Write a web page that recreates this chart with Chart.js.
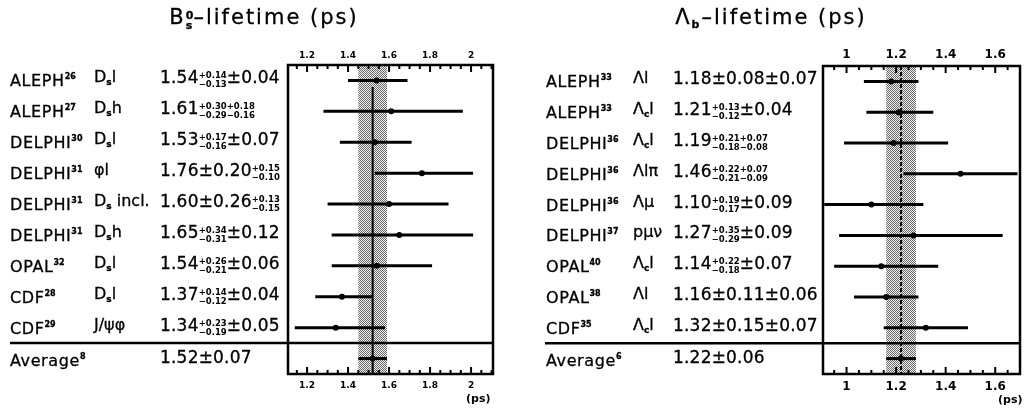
<!DOCTYPE html>
<html>
<head>
<meta charset="utf-8">
<script src="https://cdn.jsdelivr.net/npm/chart.js@4.4.1/dist/chart.umd.min.js"></script>
<style>
  html, body { margin: 0; padding: 0; background: #fff; }
  #wrap { position: relative; width: 1024px; height: 412px; overflow: hidden;
          font-family: "DejaVu Sans", sans-serif; color: #000; }
  canvas { position: absolute; top: 0; }
  .title { position: absolute; top: 5px; font-size: 21px; letter-spacing: 2px;
           white-space: nowrap; transform: translateX(-50%); -webkit-text-stroke: 0.3px #000; }
  .title .st { display: inline-block; vertical-align: -5px; font-size: 11px; line-height: 10px;
               letter-spacing: 0; font-weight: bold; }
  .title .st span { display: block; }
  .cell { position: absolute; white-space: nowrap; font-size: 16px; line-height: 20px; height: 20px;
          -webkit-text-stroke: 0.3px #000; }
  .name { letter-spacing: 0.6px; }
  .ref { font-size: 8px; font-weight: bold; vertical-align: 7px; letter-spacing: 0; }
  .cell sub { font-size: 9px; font-weight: bold; vertical-align: -3px; }
  .val { font-size: 17px; letter-spacing: 0.2px; }
  .ud { display: inline-block; vertical-align: -4px; font-size: 8.5px; line-height: 9px;
        font-weight: bold; letter-spacing: 0; -webkit-text-stroke: 0; }
  .ud span { display: block; }
  .unit { position: absolute; font-size: 11px; font-weight: bold; }
</style>
</head>
<body>
<div id="wrap">
  <canvas id="bsChart" width="512" height="412" style="left:0"></canvas>
  <canvas id="lbChart" width="512" height="412" style="left:512px"></canvas>
  <div class="title" style="left:264px">B<span class="st"><span>0</span><span>s</span></span>–lifetime (ps)</div>
  <div class="title" style="left:771px">Λ<sub style="font-size:11px;font-weight:bold;vertical-align:-4px">b</sub>–lifetime (ps)</div>
  <div class="unit" style="left:466px;top:392px">(ps)</div>
  <div class="unit" style="left:998px;top:393px">(ps)</div>
</div>
<script>
// ---- B_s lifetime measurements ----
const bsNames    = ['ALEPH', 'ALEPH', 'DELPHI', 'DELPHI', 'DELPHI', 'DELPHI', 'OPAL', 'CDF', 'CDF'];
const bsRefs     = ['26', '27', '30', '31', '31', '31', '32', '28', '29'];
const bsChannels = ['D<sub>s</sub>l', 'D<sub>s</sub>h', 'D<sub>s</sub>l', 'φl', 'D<sub>s</sub> incl.',
                    'D<sub>s</sub>h', 'D<sub>s</sub>l', 'D<sub>s</sub>l', 'J/ψφ'];
const bsCentral  = ['1.54', '1.61', '1.53', '1.76±0.20', '1.60±0.26', '1.65', '1.54', '1.37', '1.34'];
const bsUp       = ['+0.14', '+0.30+0.18', '+0.17', '+0.15', '+0.13', '+0.34', '+0.26', '+0.14', '+0.23'];
const bsDown     = ['−0.13', '−0.29−0.16', '−0.16', '−0.10', '−0.15', '−0.31', '−0.21', '−0.12', '−0.19'];
const bsTail     = ['±0.04', '', '±0.07', '', '', '±0.12', '±0.06', '±0.04', '±0.05'];
const bsValues   = [1.54, 1.61, 1.53, 1.76, 1.60, 1.65, 1.54, 1.37, 1.34];
const bsErrHi    = [0.15, 0.35, 0.18, 0.25, 0.29, 0.36, 0.27, 0.15, 0.24];
const bsErrLo    = [0.14, 0.33, 0.17, 0.23, 0.30, 0.33, 0.22, 0.13, 0.20];
const bsAverage  = [1.52, 0.07];   // value, error
const bsAvgRef   = '8';
const bsTicks    = [1.2, 1.4, 1.6, 1.8, 2];

// ---- Lambda_b lifetime measurements ----
const lbNames    = ['ALEPH', 'ALEPH', 'DELPHI', 'DELPHI', 'DELPHI', 'DELPHI', 'OPAL', 'OPAL', 'CDF'];
const lbRefs     = ['33', '33', '36', '36', '36', '37', '40', '38', '35'];
const lbChannels = ['Λl', 'Λ<sub>c</sub>l', 'Λ<sub>c</sub>l', 'Λlπ', 'Λμ', 'pμν',
                    'Λ<sub>c</sub>l', 'Λl', 'Λ<sub>c</sub>l'];
const lbCentral  = ['1.18±0.08±0.07', '1.21', '1.19', '1.46', '1.10', '1.27', '1.14',
                    '1.16±0.11±0.06', '1.32±0.15±0.07'];
const lbUp       = ['', '+0.13', '+0.21+0.07', '+0.22+0.07', '+0.19', '+0.35', '+0.22', '', ''];
const lbDown     = ['', '−0.12', '−0.18−0.08', '−0.21−0.09', '−0.17', '−0.29', '−0.18', '', ''];
const lbTail     = ['', '±0.04', '', '', '±0.09', '±0.09', '±0.07', '', ''];
const lbValues   = [1.18, 1.21, 1.19, 1.46, 1.10, 1.27, 1.14, 1.16, 1.32];
const lbErrHi    = [0.11, 0.14, 0.22, 0.23, 0.21, 0.36, 0.23, 0.13, 0.17];
const lbErrLo    = [0.11, 0.13, 0.20, 0.23, 0.19, 0.30, 0.19, 0.13, 0.17];
const lbAverage  = [1.22, 0.06];
const lbAvgRef   = '6';
const lbTicks    = [1, 1.2, 1.4, 1.6];

// stipple used for the average band
function bandPattern(ctx) {
  const c = document.createElement('canvas');
  c.width = 2; c.height = 2;
  const p = c.getContext('2d');
  p.fillStyle = '#f0f0f0'; p.fillRect(0, 0, 2, 2);
  p.fillStyle = '#6a6a6a';
  p.fillRect(0, 0, 1, 1); p.fillRect(1, 1, 1, 1);
  return ctx.createPattern(c, 'repeat');
}

const decor = {
  id: 'decor',
  beforeDatasetsDraw(chart, args, o) {
    const { ctx, chartArea: a, scales: { x } } = chart;
    const x0 = x.getPixelForValue(o.avg[0] - o.avg[1]);
    const x1 = x.getPixelForValue(o.avg[0] + o.avg[1]);
    ctx.save();
    ctx.fillStyle = bandPattern(ctx);
    ctx.fillRect(x0, a.top, x1 - x0, a.bottom - a.top);
    const xm = x.getPixelForValue(o.avg[0]);
    ctx.strokeStyle = '#000';
    ctx.lineWidth = 2;
    if (o.dash) ctx.setLineDash(o.dash);
    ctx.beginPath(); ctx.moveTo(xm, a.top + o.lineStart); ctx.lineTo(xm, a.bottom); ctx.stroke();
    ctx.restore();
  },
  afterDraw(chart, args, o) {
    const { ctx, chartArea: a, scales: { x, y } } = chart;
    ctx.save();
    ctx.strokeStyle = '#000';
    // inward ticks, minor every o.minor, major on labelled values
    ctx.lineWidth = 2;
    const first = Math.ceil(x.min / o.minor - 1e-6);
    for (let k = first; k * o.minor <= x.max + 1e-6; k++) {
      const v = k * o.minor;
      const px = x.getPixelForValue(v);
      const major = o.ticks.some(t => Math.abs(t - v) < 1e-6);
      const len = major ? 7 : 4;
      ctx.beginPath();
      ctx.moveTo(px, a.top); ctx.lineTo(px, a.top + len);
      ctx.moveTo(px, a.bottom); ctx.lineTo(px, a.bottom - len);
      ctx.stroke();
    }
    // frame
    ctx.lineWidth = 2.5;
    ctx.strokeRect(a.left, a.top, a.right - a.left, a.bottom - a.top);
    // separator above the average row
    const ys = y.getPixelForValue(o.sepAt);
    ctx.beginPath(); ctx.moveTo(o.sepFrom, ys); ctx.lineTo(a.right, ys); ctx.stroke();
    ctx.restore();
  }
};

function makePanel(id, p) {
  const datasets = [];
  p.values.forEach((v, i) => {
    datasets.push({
      data: [{ x: v - p.lo[i], y: i }, { x: v + p.hi[i], y: i }],
      borderColor: '#000', borderWidth: 3, pointRadius: 0, fill: false
    });
  });
  datasets.push({
    data: [{ x: p.avg[0] - p.avg[1], y: 9 }, { x: p.avg[0] + p.avg[1], y: 9 }],
    borderColor: '#000', borderWidth: 3, pointRadius: 0, fill: false
  });
  datasets.push({
    data: p.values.map((v, i) => ({ x: v, y: i })).concat([{ x: p.avg[0], y: 9 }]),
    showLine: false, pointRadius: 3, pointBackgroundColor: '#000', pointBorderWidth: 0
  });

  const axis = (pos, h, pad) => ({
    type: 'linear', position: pos, min: p.min, max: p.max,
    afterFit: s => { s.height = h; },
    afterBuildTicks: s => { s.ticks = p.ticks.map(v => ({ value: v })); },
    grid: { display: false, drawTicks: false },
    border: { display: false },
    ticks: { color: '#000', padding: pad, font: { family: 'DejaVu Sans', size: p.tickSize, weight: 'bold' },
             callback: v => String(v) }
  });

  return new Chart(document.getElementById(id), {
    type: 'line',
    data: { datasets },
    options: {
      responsive: false,
      animation: false,
      devicePixelRatio: 1,
      layout: { padding: p.padding },
      plugins: {
        legend: { display: false },
        tooltip: { enabled: false },
        decor: { avg: p.avg, minor: 0.05, ticks: p.ticks, sepAt: 8.5, sepFrom: p.sepFrom,
                 dash: p.dash, lineStart: p.lineStart }
      },
      scales: {
        x: axis('bottom', 30, 6),
        x2: axis('top', 26, 4),
        y: { type: 'linear', min: -0.5, max: 9.5, reverse: true, display: false }
      }
    },
    plugins: [decor]
  });
}

function fillTable(chart, offset, cols, t) {
  const wrap = document.getElementById('wrap');
  const y = chart.scales.y;
  const add = (left, top, cls, html) => {
    const d = document.createElement('div');
    d.className = 'cell ' + cls;
    d.style.left = (offset + left) + 'px';
    d.style.top = top + 'px';
    d.innerHTML = html;
    wrap.appendChild(d);
  };
  t.names.forEach((n, i) => {
    const top = y.getPixelForValue(i) - 13;
    add(cols[0], top, 'name', n + '<span class="ref">' + t.refs[i] + '</span>');
    add(cols[1], top, 'chan', t.channels[i]);
    let v = t.central[i];
    if (t.up[i]) v += '<span class="ud"><span>' + t.up[i] + '</span><span>' + t.down[i] + '</span></span>';
    v += t.tail[i];
    add(cols[2], top, 'val', v);
  });
  const top = y.getPixelForValue(9) - 12;
  add(cols[0], top, 'name', 'Average<span class="ref">' + t.avgRef + '</span>');
  add(cols[2], top, 'val', t.avg[0].toFixed(2) + '±' + t.avg[1].toFixed(2));
}

const bsChart = makePanel('bsChart', {
  values: bsValues, hi: bsErrHi, lo: bsErrLo, avg: bsAverage, ticks: bsTicks,
  min: 1.107, max: 2.107, tickSize: 9, sepFrom: 10, lineStart: 22,
  padding: { left: 288, right: 19, top: 39, bottom: 8 }
});
const lbChart = makePanel('lbChart', {
  values: lbValues, hi: lbErrHi, lo: lbErrLo, avg: lbAverage, ticks: lbTicks,
  min: 0.905, max: 1.70, tickSize: 12, sepFrom: 33, dash: [4, 2], lineStart: 0,
  padding: { left: 311, right: 3, top: 40, bottom: 8 }
});

fillTable(bsChart, 0, [10, 94, 160], {
  names: bsNames, refs: bsRefs, channels: bsChannels, central: bsCentral,
  up: bsUp, down: bsDown, tail: bsTail, avg: bsAverage, avgRef: bsAvgRef
});
fillTable(lbChart, 512, [34, 121, 161], {
  names: lbNames, refs: lbRefs, channels: lbChannels, central: lbCentral,
  up: lbUp, down: lbDown, tail: lbTail, avg: lbAverage, avgRef: lbAvgRef
});
</script>
</body>
</html>
